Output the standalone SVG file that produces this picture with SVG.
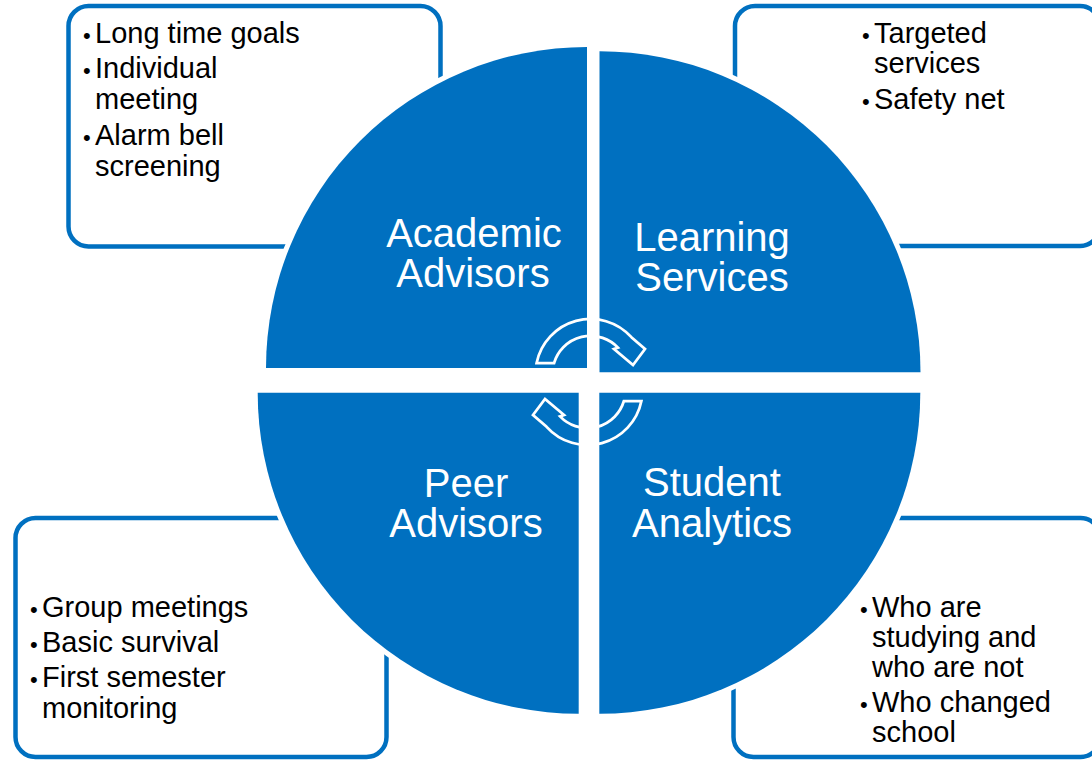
<svg xmlns="http://www.w3.org/2000/svg" xmlns:xlink="http://www.w3.org/1999/xlink" width="1092" height="760" viewBox="0 0 1092 760">
<style>
.box{fill:#ffffff;stroke:#0070C0;stroke-width:4.5}
.quad{fill:#0070C0;stroke:#ffffff;stroke-width:10;paint-order:stroke;stroke-linejoin:miter}
.lbl{font-family:"Liberation Sans",Arial,sans-serif;font-size:40px;fill:#ffffff;text-anchor:middle}
.txt{font-family:"Liberation Sans",Arial,sans-serif;font-size:29px;fill:#000000}
.bul{font-family:"Liberation Sans",Arial,sans-serif;font-size:22px;fill:#000000}
.arr{fill:none;stroke:#ffffff;stroke-width:2.75;stroke-linejoin:miter}
</style>
<defs>
<path id="cyc" class="arr" d="M536.6,363 A55,55 0 0 1 631.4,337.2 L645,349 L633,365 L614,349 L618,347.6 A38,38 0 0 0 554.1,363 Z"/>
</defs>
<rect width="1092" height="760" fill="#ffffff"/>

<g id="box-academic">
<rect class="box" x="68.5" y="6" width="372" height="240.5" rx="20"/>
<text class="bul" x="83" y="43">•</text><text class="txt" x="95" y="43">Long time goals</text>
<text class="bul" x="83" y="78">•</text><text class="txt" x="95" y="78">Individual</text>
<text class="txt" x="95" y="109">meeting</text>
<text class="bul" x="83" y="145">•</text><text class="txt" x="95" y="145">Alarm bell</text>
<text class="txt" x="95" y="176">screening</text>
</g>

<g id="box-learning">
<rect class="box" x="735" y="6" width="365" height="240" rx="20"/>
<text class="bul" x="862" y="43">•</text><text class="txt" x="874" y="43">Targeted</text>
<text class="txt" x="874" y="73">services</text>
<text class="bul" x="862" y="109">•</text><text class="txt" x="874" y="109">Safety net</text>
</g>

<g id="box-peer">
<rect class="box" x="15.5" y="518" width="371" height="239" rx="20"/>
<text class="bul" x="30" y="617">•</text><text class="txt" x="42" y="617">Group meetings</text>
<text class="bul" x="30" y="652">•</text><text class="txt" x="42" y="652">Basic survival</text>
<text class="bul" x="30" y="687">•</text><text class="txt" x="42" y="687">First semester</text>
<text class="txt" x="42" y="718">monitoring</text>
</g>

<g id="box-analytics">
<rect class="box" x="733.5" y="518" width="367" height="239" rx="20"/>
<text class="bul" x="860" y="617">•</text><text class="txt" x="872" y="617">Who are</text>
<text class="txt" x="872" y="647">studying and</text>
<text class="txt" x="872" y="677">who are not</text>
<text class="bul" x="860" y="712">•</text><text class="txt" x="872" y="712">Who changed</text>
<text class="txt" x="872" y="742">school</text>
</g>

<g id="academic-advisors">
<path class="quad" d="M587,368 L266,368 A321,321 0 0 1 587,47 Z"/>
<text class="lbl" x="474" y="247">Academic</text>
<text class="lbl" x="473" y="287">Advisors</text>
</g>

<g id="learning-services">
<path class="quad" d="M599.5,372.3 L599.5,51.3 A321,321 0 0 1 920.5,372.3 Z"/>
<text class="lbl" x="712" y="251">Learning</text>
<text class="lbl" x="712" y="291">Services</text>
</g>

<g id="peer-advisors">
<path class="quad" d="M578.7,392.7 L578.7,713.7 A321,321 0 0 1 257.7,392.7 Z"/>
<text class="lbl" x="466" y="497">Peer</text>
<text class="lbl" x="466" y="537">Advisors</text>
</g>

<g id="student-analytics">
<path class="quad" d="M599.3,392.7 L920.3,392.7 A321,321 0 0 1 599.3,713.7 Z"/>
<text class="lbl" x="712" y="496">Student</text>
<text class="lbl" x="712" y="537">Analytics</text>
</g>

<g id="connectors">
<use href="#cyc" xlink:href="#cyc"/>
<use href="#cyc" xlink:href="#cyc" transform="rotate(180 589 382)"/>
</g>
</svg>
